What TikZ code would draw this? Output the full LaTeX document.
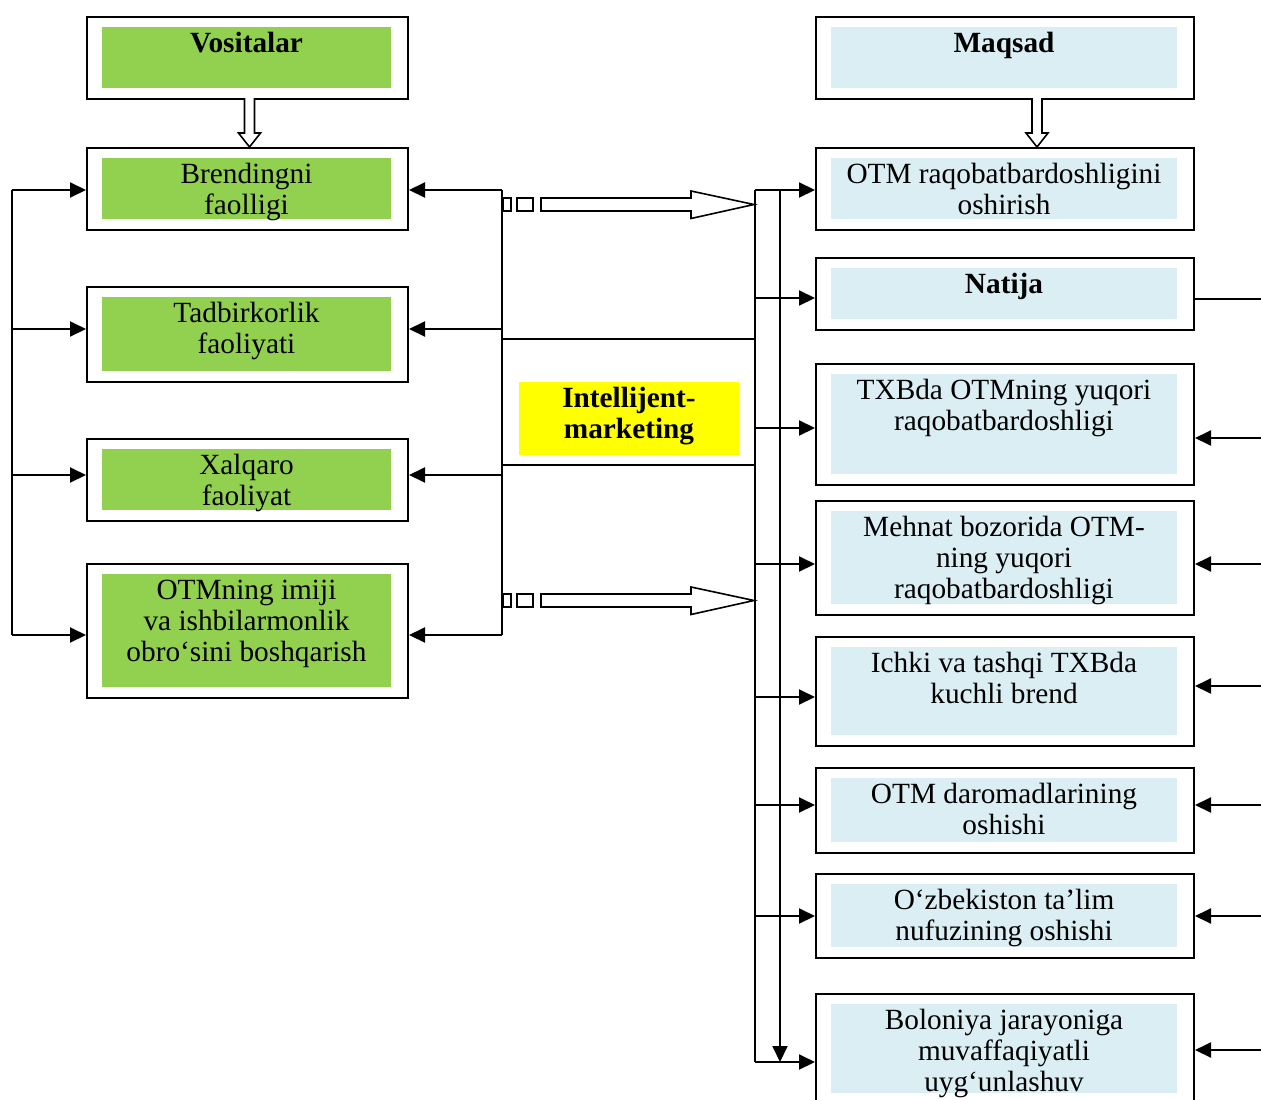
\documentclass[tikz,border=0pt]{standalone}
\usepackage{fontspec}
\setmainfont{Liberation Serif}
\usetikzlibrary{arrows.meta}
\definecolor{leafgreen}{HTML}{92D050}
\definecolor{paleblue}{HTML}{DAEEF3}
\definecolor{brightyellow}{HTML}{FFFF00}

\tikzset{
  frame/.style={draw=black, line width=2pt, inner sep=0pt, anchor=north west},
  conn/.style={line width=2pt, -{Triangle[length=16pt,width=15pt]}},
  wire/.style={line width=2pt},
  thinwire/.style={line width=1.3pt},
  hollow/.style={draw=black, fill=white, line width=1.6pt, line join=miter},
  caption/.style={font=\fontsize{29.3}{31}\selectfont, align=center, inner sep=0pt, anchor=north},
}

% framed panel with an inset coloured field: name, left, top, right, bottom, fill, text
\newcommand\panel[7]{%
  \fill[#6] (#2+16,#3+10.5) rectangle (#4-16,#5-10);
  \node[frame, minimum width={#4-#2}, minimum height={#5-#3}] (#1) at (#2,#3) {};
  \node[caption] (#1-t) at ({(#2+#4)/2},#3+14.5) {\strut #7};
}

% open double-line arrow pointing down: centre x, top y, bottom y
\newcommand\hollowdown[3]{%
  \draw[hollow] (#1-5,#2) -- (#1-5,#3-14) -- (#1-11,#3-14) -- (#1,#3)
    -- (#1+11,#3-14) -- (#1+5,#3-14) -- (#1+5,#2);
}

% open block arrow with two detached squares: centre y
\newcommand\blockarrow[1]{%
  \draw[hollow] (503,#1-6.5) rectangle (511,#1+6.5);
  \draw[hollow] (517,#1-6.5) rectangle (533,#1+6.5);
  \draw[hollow] (541,#1-6.5) -- (691,#1-6.5) -- (691,#1-13.5) -- (754,#1)
    -- (691,#1+14) -- (691,#1+6.5) -- (541,#1+6.5) -- cycle;
}

\begin{document}
\begin{tikzpicture}[x=1pt, y=-1pt]
\useasboundingbox (0,0) rectangle (1261,1100);
\clip (0,0) rectangle (1261,1100);

% left column: instruments
\panel{vos}{86}{16}{407}{98}{leafgreen}{\textbf{Vositalar}}
\panel{brend}{86}{147}{407}{229}{leafgreen}{Brendingni\\faolligi}
\panel{tadb}{86}{286}{407}{381}{leafgreen}{Tadbirkorlik\\faoliyati}
\panel{xalq}{86}{438}{407}{520}{leafgreen}{Xalqaro\\faoliyat}
\panel{imij}{86}{563}{407}{697}{leafgreen}{OTMning imiji\\va ishbilarmonlik\\obro‘sini boshqarish}

% right column: goal and results
\panel{maq}{815}{16}{1193}{98}{paleblue}{\textbf{Maqsad}}
\panel{raq}{815}{147}{1193}{229}{paleblue}{OTM raqobatbardoshligini\\oshirish}
\panel{nat}{815}{257}{1193}{329}{paleblue}{\textbf{Natija}}
\panel{txb}{815}{363}{1193}{484}{paleblue}{TXBda OTMning yuqori\\raqobatbardoshligi}
\panel{mehn}{815}{500}{1193}{614}{paleblue}{Mehnat bozorida OTM-\\ning yuqori\\raqobatbardoshligi}
\panel{ichk}{815}{636}{1193}{745}{paleblue}{Ichki va tashqi TXBda\\kuchli brend}
\panel{daro}{815}{767}{1193}{852}{paleblue}{OTM daromadlarining\\oshishi}
\panel{ozb}{815}{873}{1193}{957}{paleblue}{O‘zbekiston ta’lim\\nufuzining oshishi}
\panel{bol}{815}{993}{1193}{1103}{paleblue}{Boloniya jarayoniga\\muvaffaqiyatli\\uyg‘unlashuv}

% centre: intelligent marketing
\node[fill=brightyellow, minimum width=220, minimum height=73, inner sep=0pt, anchor=north west] (im) at (519,382) {};
\node[caption] (im-t) at (629,386) {\strut\textbf{Intellijent-}\\\textbf{marketing}};

% header arrows
\hollowdown{249.5}{98}{147}
\hollowdown{1037}{98}{147}

% left feedback bus
\coordinate (la1) at (12,190);
\coordinate (la2) at (12,329);
\coordinate (la3) at (12,475);
\coordinate (la4) at (12,635);
\draw[wire] (la1) -- (la4);
\draw[conn] (la1) -- (brend.west |- la1);
\draw[conn] (la2) -- (tadb.west |- la2);
\draw[conn] (la3) -- (xalq.west |- la3);
\draw[conn] (la4) -- (imij.west |- la4);

% middle bus feeding the instruments
\coordinate (ma1) at (502,190);
\coordinate (ma2) at (502,329);
\coordinate (ma3) at (502,475);
\coordinate (ma4) at (502,635);
\draw[wire] (ma1) -- (ma4);
\draw[conn] (ma1) -- (brend.east |- ma1);
\draw[conn] (ma2) -- (tadb.east |- ma2);
\draw[conn] (ma3) -- (xalq.east |- ma3);
\draw[conn] (ma4) -- (imij.east |- ma4);

% frame around the centre block
\coordinate (fl1) at (502,339);
\coordinate (fr1) at (755,339);
\coordinate (fl2) at (502,465);
\coordinate (fr2) at (755,465);
\draw[thinwire] (fl1) -- (fr1);
\draw[thinwire] (fl2) -- (fr2);

% right distribution bus
\coordinate (ra1) at (755,190);
\coordinate (ra2) at (755,298);
\coordinate (ra3) at (755,428);
\coordinate (ra4) at (755,564);
\coordinate (ra5) at (755,697);
\coordinate (ra6) at (755,805);
\coordinate (ra7) at (755,916);
\coordinate (ra8) at (755,1062);
\draw[wire] (ra1) -- (ra8);
\draw[conn] (ra1) -- (raq.west |- ra1);
\draw[conn] (ra2) -- (nat.west |- ra2);
\draw[conn] (ra3) -- (txb.west |- ra3);
\draw[conn] (ra4) -- (mehn.west |- ra4);
\draw[conn] (ra5) -- (ichk.west |- ra5);
\draw[conn] (ra6) -- (daro.west |- ra6);
\draw[conn] (ra7) -- (ozb.west |- ra7);
\draw[conn] (ra8) -- (bol.west |- ra8);

% inner downward line
\coordinate (da1) at (780,190);
\coordinate (da2) at (780,1062);
\draw[conn] (da1) -- (da2);

% block arrows from the instruments to the bus
\blockarrow{204.5}
\blockarrow{600.5}

% links on the far right
\coordinate (nr) at (1266,299);
\draw[thinwire] (nat.east |- nr) -- (nr);
\coordinate (rr1) at (1266,438);
\coordinate (rr2) at (1266,564);
\coordinate (rr3) at (1266,686);
\coordinate (rr4) at (1266,805);
\coordinate (rr5) at (1266,916);
\coordinate (rr6) at (1266,1050);
\draw[conn] (rr1) -- (txb.east |- rr1);
\draw[conn] (rr2) -- (mehn.east |- rr2);
\draw[conn] (rr3) -- (ichk.east |- rr3);
\draw[conn] (rr4) -- (daro.east |- rr4);
\draw[conn] (rr5) -- (ozb.east |- rr5);
\draw[conn] (rr6) -- (bol.east |- rr6);
\end{tikzpicture}
\end{document}
